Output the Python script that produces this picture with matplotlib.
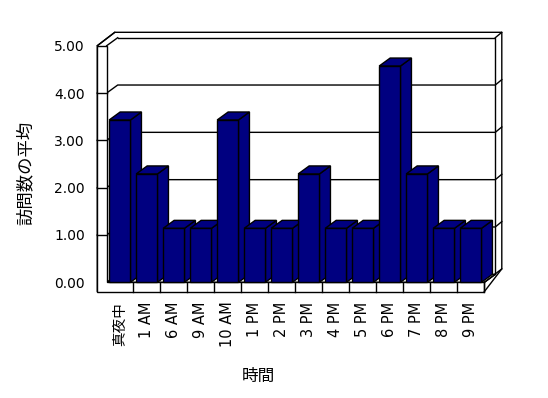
import matplotlib
matplotlib.use('Agg')
import matplotlib.pyplot as plt
from matplotlib.patches import Polygon

plt.rcParams['font.family'] = ['DejaVu Sans', 'Noto Sans CJK JP']

# data
hours = ['真夜中', '1 AM', '6 AM', '9 AM', '10 AM', '1 PM', '2 PM', '3 PM',
         '4 PM', '5 PM', '6 PM', '7 PM', '8 PM', '9 PM']
avg_visits = [3.43, 2.29, 1.14, 1.14, 3.43, 1.14, 1.14, 2.29,
              1.14, 1.14, 4.57, 2.29, 1.14, 1.14]
y_ticks = [0, 1, 2, 3, 4, 5]
y_ticklabels = ['0.00', '1.00', '2.00', '3.00', '4.00', '5.00']

NAVY = '#000080'

# setup - 1 px = 1 dot
fig = plt.figure(figsize=(5.48, 3.98), dpi=100)
W, H = 548, 398
ax = fig.add_axes([97.3 / W, 1 - 282.3 / H, 387 / W, 236.6 / H])
ax.set_xlim(-0.5 - 9 / 27, len(hours) - 0.5)
ax.set_ylim(0, 5)
for s in ax.spines.values():
    s.set_visible(False)

# pixel -> data sizes for the fake 3d depth
px_x = 1 / 27.0
px_y = 5 / 236.6
bar_dx, bar_dy = 11 * px_x, 8 * px_y      # bar depth == inner back wall
out_dx, out_dy = 17.5 * px_x, 13.4 * px_y  # outer thickness of the walls
x_left = ax.get_xlim()[0]
x_wall = x_left + 9.4 * px_x
x_right = ax.get_xlim()[1]
y_floor = -9.4 * px_y
y_top = 5

def poly(pts, fc='white', z=1):
    ax.add_patch(Polygon(pts, closed=True, facecolor=fc, edgecolor='black',
                         linewidth=1, clip_on=False, zorder=z))

def line(xs, ys, z=2):
    ax.plot(xs, ys, color='black', linewidth=1, clip_on=False, zorder=z)

# back wall (outer and inner outline)
poly([(x_left + out_dx, y_top + out_dy), (x_right + out_dx, y_top + out_dy),
      (x_right + out_dx, out_dy), (x_right, 0), (x_right, y_floor),
      (x_left, y_floor), (x_left, y_top)], z=1)
line([x_wall + bar_dx, x_right + bar_dx, x_right + bar_dx],
     [y_top + bar_dy, y_top + bar_dy, bar_dy])
line([x_right + bar_dx, x_right + out_dx], [y_top + bar_dy, y_top + out_dy])

# gridlines on the walls
for v in y_ticks[1:-1]:
    line([x_left, x_wall, x_wall + bar_dx, x_right + bar_dx, x_right + out_dx],
         [v, v, v + bar_dy, v + bar_dy, v + out_dy])

# floor top
poly([(x_wall, 0), (x_right, 0), (x_right + bar_dx, bar_dy),
      (x_wall + bar_dx, bar_dy)], z=2)

# left wall + floor front
poly([(x_left, y_floor), (x_left, y_top), (x_wall, y_top), (x_wall, 0),
      (x_right, 0), (x_right, y_floor)], z=3)
line([x_left, x_left + out_dx], [y_top, y_top + out_dy], z=5)
line([x_wall, x_wall + bar_dx], [y_top, y_top + bar_dy], z=5)
for v in y_ticks[1:-1]:
    line([x_left, x_wall], [v, v], z=5)

# floor front segments and right side
for k in range(1, len(hours) + 1):
    line([k - 0.5, k - 0.5], [y_floor, 0], z=5)
line([x_right, x_right + out_dx], [y_floor, out_dy], z=5)
line([x_right, x_right + bar_dx], [0, bar_dy], z=5)

# bars, left to right so the next front covers the previous side
bw = 21.3 / 27
for i, v in enumerate(avg_visits):
    x0, x1 = i - bw / 2, i + bw / 2
    poly([(x1, 0), (x1 + bar_dx, bar_dy), (x1 + bar_dx, v + bar_dy), (x1, v)], NAVY, 4)
    poly([(x0, v), (x1, v), (x1 + bar_dx, v + bar_dy), (x0 + bar_dx, v + bar_dy)], NAVY, 4)
    poly([(x0, 0), (x1, 0), (x1, v), (x0, v)], NAVY, 4)

# axes text
ax.set_yticks(y_ticks)
ax.set_yticklabels(y_ticklabels, fontsize=10)
ax.set_xticks(range(len(hours)))
ax.set_xticklabels(hours, rotation=90, fontsize=10.5)
ax.tick_params(axis='y', length=0, pad=9)
ax.tick_params(axis='x', length=0, pad=14)

ax.set_xlabel('時間', fontsize=12)
ax.xaxis.set_label_coords((258.8 - 97.3) / 387, (282.3 - 376) / 236.6)
ax.xaxis.label.set_va('center')
ax.set_ylabel('訪問数の平均', fontsize=12.5)
ax.yaxis.set_label_coords((26 - 97.3) / 387, (282.3 - 173) / 236.6)
ax.yaxis.label.set_va('center')

fig.savefig('out.png', dpi=100)
